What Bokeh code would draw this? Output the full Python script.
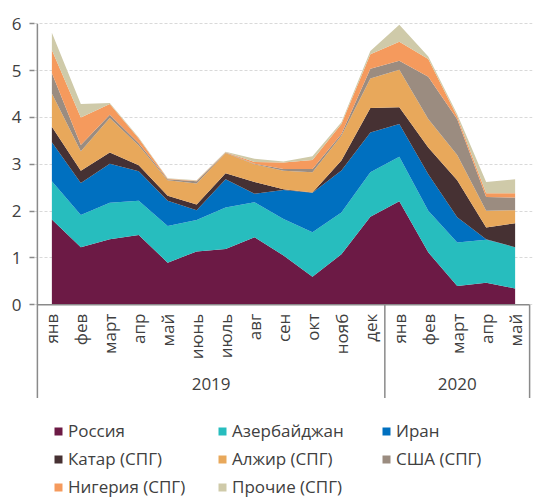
from bokeh.plotting import figure
from bokeh.models import (ColumnDataSource, FactorRange, FixedTicker, Legend,
                          LegendItem, Range1d)
from bokeh.core.properties import value
from bokeh.embed import file_html
from bokeh.resources import INLINE
import math

# ---------------- data ----------------
years = ["2019"] * 12 + ["2020"] * 5
months = ["янв", "фев", "март", "апр", "май", "июнь", "июль", "авг", "сен",
          "окт", "нояб", "дек", "янв", "фев", "март", "апр", "май"]
year_labels = ["2019", "2020"]

russia     = [1.82, 1.23, 1.40, 1.49, 0.90, 1.14, 1.19, 1.44, 1.05, 0.60, 1.08, 1.88, 2.21, 1.12, 0.40, 0.47, 0.35]
azerbaijan = [0.82, 0.69, 0.78, 0.73, 0.78, 0.67, 0.89, 0.75, 0.78, 0.95, 0.89, 0.95, 0.95, 0.89, 0.93, 0.92, 0.88]
iran       = [0.83, 0.68, 0.83, 0.63, 0.54, 0.21, 0.60, 0.18, 0.62, 0.84, 0.90, 0.85, 0.70, 0.78, 0.54, 0.01, 0.00]
qatar      = [0.33, 0.26, 0.24, 0.13, 0.11, 0.12, 0.13, 0.25, 0.02, 0.01, 0.21, 0.52, 0.36, 0.57, 0.79, 0.25, 0.51]
algeria    = [0.71, 0.42, 0.74, 0.42, 0.33, 0.45, 0.43, 0.38, 0.39, 0.43, 0.53, 0.63, 0.80, 0.61, 0.54, 0.36, 0.28]
usa        = [0.44, 0.13, 0.07, 0.05, 0.02, 0.05, 0.01, 0.01, 0.04, 0.07, 0.04, 0.21, 0.19, 0.90, 0.76, 0.29, 0.27]
nigeria    = [0.49, 0.59, 0.23, 0.10, 0.01, 0.01, 0.01, 0.04, 0.14, 0.19, 0.21, 0.31, 0.41, 0.38, 0.06, 0.08, 0.09]
others     = [0.37, 0.29, 0.02, 0.02, 0.01, 0.01, 0.01, 0.07, 0.02, 0.08, 0.04, 0.07, 0.36, 0.05, 0.05, 0.24, 0.30]

series_names = ["Россия", "Азербайджан", "Иран", "Катар (СПГ)", "Алжир (СПГ)",
                "США (СПГ)", "Нигерия (СПГ)", "Прочие (СПГ)"]
y_ticks = [0, 1, 2, 3, 4, 5, 6]

# ---------------- styles ----------------
colors = ["#6C1A45", "#27BDBE", "#0070C0", "#463133", "#E8A85B",
          "#9B8C80", "#F59A5D", "#CFCAA9"]
FONT = "Open Sans"
TXT = "#404040"
AXIS = "#8A8A8A"
Y_MIN = -4.18         # bottom of the frame (legend area lies inside it)
Y_SEP = -1.99         # bottom of the category-axis separator lines

factors = list(zip(years, months))
keys = ["s%d" % i for i in range(len(series_names))]
data = dict(x=factors)
for k, s in zip(keys, [russia, azerbaijan, iran, qatar, algeria, usa, nigeria, others]):
    data[k] = s
source = ColumnDataSource(data)

x_range = FactorRange(*factors, factor_padding=0, group_padding=0,
                      subgroup_padding=0, range_padding=0.1,
                      range_padding_units="absolute")

p = figure(width=533, height=500, x_range=x_range,
           y_range=Range1d(Y_MIN, 6.05),
           output_backend="svg", toolbar_location=None,
           x_axis_location=None,
           min_border_left=34, min_border_right=1,
           min_border_top=21, min_border_bottom=0)
p.outline_line_color = None
p.xgrid.visible = False

renderers = p.varea_stack(keys, x="x", source=source, color=colors)

# y axis (line drawn separately so that it stops at the category block)
p.yaxis.ticker = FixedTicker(ticks=y_ticks)
p.yaxis.axis_line_color = None
p.yaxis.major_tick_line_color = AXIS
p.yaxis.major_tick_line_width = 1.5
p.yaxis.major_tick_out = 5
p.yaxis.major_tick_in = 0
p.yaxis.minor_tick_line_color = None
p.yaxis.major_label_text_font = FONT
p.yaxis.major_label_text_font_size = "17px"
p.yaxis.major_label_text_color = TXT
p.yaxis.major_label_standoff = 8

p.ygrid.grid_line_color = "#D9D9D9"
p.ygrid.grid_line_dash = "3 2"
p.ygrid.grid_line_width = 1

n19 = years.count("2019")
n_all = len(years)
top = max(y_ticks)

# axis lines: vertical axis, zero line, year separators
p.segment(x0=[0, 0, n19, n_all], y0=[top, 0, 0, 0],
          x1=[0, n_all, n19, n_all], y1=[Y_SEP, 0, Y_SEP, Y_SEP],
          line_color=AXIS, line_width=1.5)

# month labels
p.text(x=factors, y=[-0.19] * len(factors), text=months, angle=math.pi / 2,
       text_align="right", text_baseline="middle",
       text_font=value(FONT), text_font_size="17px", text_color=TXT)
# year labels at the centre of each year group
year_x = [n19 / 2, n19 + (n_all - n19) / 2]
p.text(x=year_x, y=[-1.69] * 2, text=year_labels,
       text_align="center", text_baseline="middle",
       text_font=value(FONT), text_font_size="17px", text_color=TXT)

items = [LegendItem(label=n, renderers=[r]) for n, r in zip(series_names, renderers)]
legend = Legend(items=items, ncols=3, orientation="horizontal",
                location=(19, 2),
                glyph_width=10, glyph_height=10, label_standoff=5,
                label_width=144, label_height=18, spacing=5,
                padding=0, margin=0,
                border_line_color=None, background_fill_alpha=0,
                label_text_font=FONT, label_text_font_size="17px",
                label_text_color=TXT)
p.add_layout(legend)

open("out.html", "w").write(file_html(p, INLINE))
